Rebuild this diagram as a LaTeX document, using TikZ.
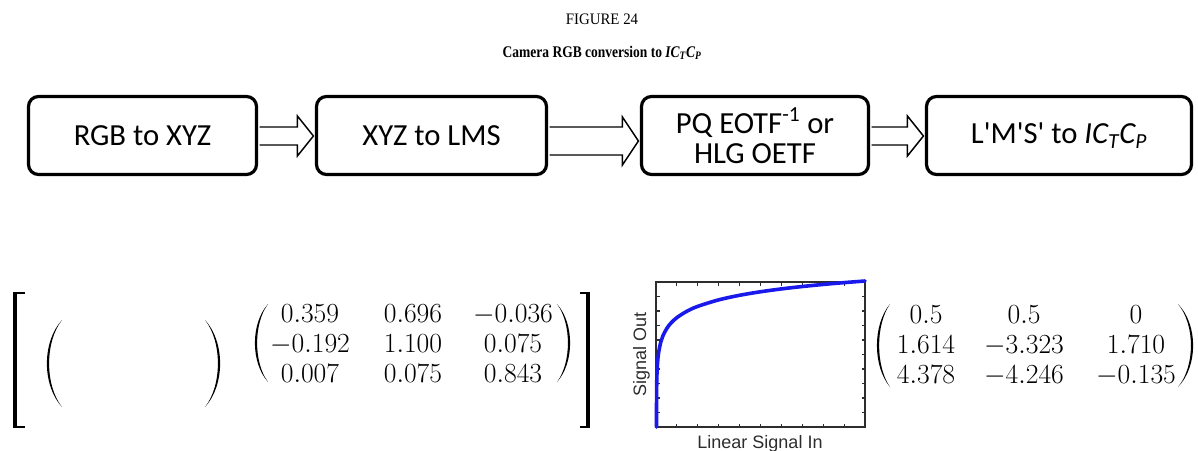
\documentclass[tikz,border=0pt]{standalone}
\usepackage[no-math]{fontspec}
\setmainfont{Liberation Serif}
\newfontfamily\boxfont{Carlito}[Ligatures=TeXOff]
\newfontfamily\plotfont{Liberation Sans}
\usetikzlibrary{calc}
\definecolor{plotblue}{RGB}{25,25,235}
\definecolor{axisgray}{RGB}{45,45,45}
\newcommand\px[1]{#1*0.75pt}
% block arrow from node #1 to node #2: y offset #3, shaft half #4, head half #5, head length #6
\newcommand\blkarrow[6]{%
  \draw[blockarrow] ($(#1.east)+(1.5,#3-#4)$) -- ($(#2.west)+(-1.5-#6,#3-#4)$)
    -- ($(#2.west)+(-1.5-#6,#3-#5)$) -- ($(#2.west)+(-1.5,#3)$)
    -- ($(#2.west)+(-1.5-#6,#3+#5)$) -- ($(#2.west)+(-1.5-#6,#3+#4)$)
    -- ($(#1.east)+(1.5,#3+#4)$);}
% crescent paren: ends x #1, middle stroke x #2, top #3, bottom #4, direction #5 (-1 left, 1 right)
\newcommand\crescent[5]{%
  \fill[black] (#1,#3) .. controls ({(#2+(#5)*1.1-0.25*#1)/0.75},{#3+0.25*(#4-#3)}) and ({(#2+(#5)*1.1-0.25*#1)/0.75},{#4-0.25*(#4-#3)}) .. (#1,#4)
    .. controls ({(#2-(#5)*1.1-0.25*#1)/0.75},{#4-0.25*(#4-#3)}) and ({(#2-(#5)*1.1-0.25*#1)/0.75},{#3+0.25*(#4-#3)}) .. cycle;}
\begin{document}
\begin{tikzpicture}[x=0.75pt,y=-0.75pt,
  procbox/.style={draw, line width=2.4pt, rounded corners=7.5pt, inner sep=0pt,
    minimum height=\px{78}, align=center,
    font=\boxfont\fontsize{23}{22.5}\selectfont},
  blockarrow/.style={draw, line width=1.1pt, fill=white, line join=miter},
  num/.style={inner sep=0pt, anchor=base, font=\fontsize{19.8}{24}\selectfont},
  axisline/.style={draw=axisgray, line width=0.8pt},
  plotlabel/.style={inner sep=0pt, anchor=base, text=axisgray, font=\plotfont\fontsize{13.5}{16}\selectfont}
  ]
\useasboundingbox (0,0) rectangle (1198,450);

% titles
\node[inner sep=0pt, xscale=0.93, font=\fontsize{12}{14}\selectfont] (fig) at (602,19) {FIGURE 24};
\node[inner sep=0pt, anchor=base, xscale=0.83, font=\bfseries\fontsize{12.2}{14}\selectfont] (cap) at (602,57)
  {Camera RGB conversion to \textit{IC\textsubscript{T}C\textsubscript{P}}};

% process boxes
\node[procbox, minimum width=\px{228}] (b1) at (142.5,135.5) {RGB to XYZ};
\node[procbox, minimum width=\px{230}] (b2) at (431.5,135.5) {XYZ to LMS};
\node[procbox, minimum width=\px{227}] (b3) at (755,135.5) {PQ EOTF\textsuperscript{-1} or\\HLG OETF};
\node[procbox, minimum width=\px{265}] (b4) at (1059,135.5) {L'M'S' to \textit{IC\textsubscript{T}C\textsubscript{P}}};

\blkarrow{b1}{b2}{0.5}{9}{20}{16}
\blkarrow{b2}{b3}{5.5}{14}{24}{16}
\blkarrow{b3}{b4}{0.5}{9}{20}{16}

% big brackets
\draw[line width=3.3pt] (15,292) -- (15,428);
\draw[line width=1.6pt] (13.5,293) -- (25,293) (13.5,427) -- (25,427);
\draw[line width=3.3pt] (588,292) -- (588,428);
\draw[line width=1.6pt] (589.5,293) -- (580,293) (589.5,427) -- (580,427);

% empty parens
\crescent{62}{48}{320}{407}{-1}
\crescent{205}{219}{320}{407}{1}

% matrix 1
\crescent{268}{256}{304}{382}{-1}
\crescent{557}{569}{304}{382}{1}
\node[num] (a11) at (310,322) {$0.359$};
\node[num] (a12) at (413,322) {$0.696$};
\node[num] (a13) at (513,322) {$-0.036$};
\node[num] (a21) at (310,352) {$-0.192$};
\node[num] (a22) at (413,352) {$1.100$};
\node[num] (a23) at (513,352) {$0.075$};
\node[num] (a31) at (310,382) {$0.007$};
\node[num] (a32) at (413,382) {$0.075$};
\node[num] (a33) at (513,382) {$0.843$};

% plot
\draw[axisline] (656,282) rectangle (865,427);
\foreach \k in {1,...,9} {
  \draw[axisline] ({656+20.9*\k},427) -- ++(0,-3.5);
  \draw[axisline] ({656+20.9*\k},282) -- ++(0,3.5);
  \draw[axisline] (656,{282+14.5*\k}) -- ++(3.5,0);
  \draw[axisline] (865,{282+14.5*\k}) -- ++(-3.5,0);
}
\draw[plotblue, line width=2.7pt, line join=round, line cap=round]
  (656.5,427) -- (656.52,405.0) -- (656.71,383.24) -- (656.92,374.87)
  plot[smooth, tension=0.55] coordinates {(656.92,374.87) (657.54,362.72) (658.59,352.82)
  (660.67,342.44) (662.76,336.20) (666.93,328.22) (671.10,322.90) (677.35,317.23)
  (687.78,310.77) (698.20,306.20) (719.05,299.76) (739.90,295.22) (760.75,291.72)
  (781.60,288.88) (802.45,286.49) (823.30,284.42) (844.15,282.61) (865.0,281.0)};
\node[plotlabel] (xlab) at (760,448) {Linear Signal In};
\node[plotlabel, rotate=90] (ylab) at (646,354) {Signal Out};

% matrix 2
\crescent{890}{878}{304}{387}{-1}
\crescent{1178}{1192}{304}{387}{1}
\node[num] (c11) at (926,323) {$0.5$};
\node[num] (c12) at (1024,323) {$0.5$};
\node[num] (c13) at (1136,323) {$0$};
\node[num] (c21) at (926,353) {$1.614$};
\node[num] (c22) at (1024,353) {$-3.323$};
\node[num] (c23) at (1136,353) {$1.710$};
\node[num] (c31) at (926,383) {$4.378$};
\node[num] (c32) at (1024,383) {$-4.246$};
\node[num] (c33) at (1136,383) {$-0.135$};
\end{tikzpicture}
\end{document}
